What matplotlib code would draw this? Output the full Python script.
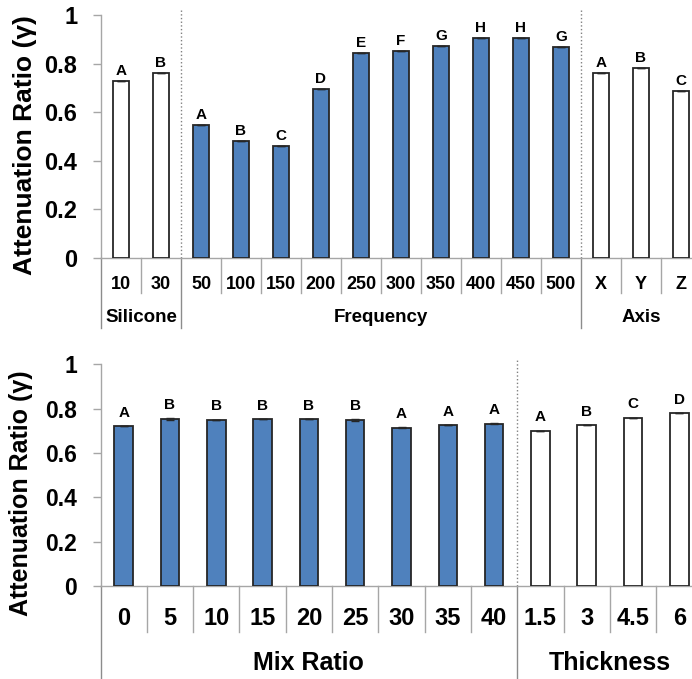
import matplotlib.pyplot as plt
from matplotlib import transforms

plt.rcParams['font.family'] = ['Liberation Sans', 'DejaVu Sans']
plt.rcParams['font.weight'] = 'bold'

# top panel data
top_labels = ['10', '30', '50', '100', '150', '200', '250', '300', '350',
              '400', '450', '500', 'X', 'Y', 'Z']
top_values = [0.730, 0.761, 0.547, 0.481, 0.462, 0.694, 0.845, 0.853, 0.872,
              0.904, 0.904, 0.868, 0.761, 0.781, 0.689]
top_letters = ['A', 'B', 'A', 'B', 'C', 'D', 'E', 'F', 'G', 'H', 'H', 'G',
               'A', 'B', 'C']
top_groups = ['Silicone', 'Frequency', 'Axis']
top_group_sizes = [2, 10, 3]
top_filled = [False, True, False]

# bottom panel data
bot_labels = ['0', '5', '10', '15', '20', '25', '30', '35', '40',
              '1.5', '3', '4.5', '6']
bot_values = [0.721, 0.754, 0.751, 0.754, 0.754, 0.749, 0.714, 0.725, 0.732,
              0.701, 0.725, 0.760, 0.781]
bot_errors = [0.0, 0.003, 0.0, 0.0, 0.0, 0.003, 0.003, 0.0, 0.003,
              0.0, 0.0, 0.0, 0.0]
bot_letters = ['A', 'B', 'B', 'B', 'B', 'B', 'A', 'A', 'A', 'A', 'B', 'C', 'D']
bot_groups = ['Mix Ratio', 'Thickness']
bot_group_sizes = [9, 4]
bot_filled = [True, False]

BLUE = '#4f81bd'
EDGE = '#262626'
GREY = '#a6a6a6'
W, H = 692, 679


def panel(rect, labels, values, letters, groups, sizes, filled, errors,
          px_h, fs):
    ax = plt.gcf().add_axes(rect)
    n = len(labels)
    x = list(range(n))
    colors = []
    for g, s in enumerate(sizes):
        colors += [BLUE if filled[g] else 'white'] * s
    ax.bar(x, values, width=0.4, color=colors, edgecolor=EDGE, linewidth=1.3,
           yerr=errors, error_kw=dict(ecolor=EDGE, capsize=3, elinewidth=1),
           zorder=3)
    for xi, v, e, t in zip(x, values, errors, letters):
        ax.text(xi, v + e + fs['gap'], t, ha='center', va='bottom',
                fontsize=fs['letter'], fontweight='bold')
    ax.set_xlim(-0.5, n - 0.5)
    ax.set_ylim(0, 1)
    ax.set_yticks([0, 0.2, 0.4, 0.6, 0.8, 1.0])
    ax.set_yticklabels(['0', '0.2', '0.4', '0.6', '0.8', '1'])
    ax.tick_params(axis='y', length=6, color=GREY, width=1,
                   labelsize=fs['ytick'], pad=11)
    ax.set_xticks(x)
    ax.set_xticklabels(labels)
    ax.tick_params(axis='x', length=0, labelsize=fs['xtick'], pad=fs['xpad'])
    for s in ['top', 'right']:
        ax.spines[s].set_visible(False)
    for s in ['left', 'bottom']:
        ax.spines[s].set_color(GREY)
        ax.spines[s].set_linewidth(1)
    ax.set_ylabel('Attenuation Ratio (γ)', fontsize=fs['ylabel'],
                  fontweight='bold')
    ax.yaxis.set_label_coords(*fs['ylab_xy'])

    trans = transforms.blended_transform_factory(ax.transData, ax.transAxes)
    short = -fs['short'] / px_h
    long_ = -fs['long'] / px_h
    # category separators below axis
    bounds = [0]
    for s in sizes:
        bounds.append(bounds[-1] + s)
    for i in range(n + 1):
        xb = i - 0.5
        bottom = long_ if i in bounds else short
        ax.plot([xb, xb], [0, bottom], color=GREY if i not in bounds else '#8c8c8c',
                lw=1, transform=trans, clip_on=False)
    # dotted group dividers in the plot
    for b in bounds[1:-1]:
        ax.plot([b - 0.5, b - 0.5], [0, 1 + 5 / px_h], color='#808080',
                lw=1, ls=':', transform=trans, clip_on=False)
    # group labels
    for g, name in enumerate(groups):
        cx = (bounds[g] + bounds[g + 1] - 1) / 2
        ax.text(cx, -fs['group_y'] / px_h, name, transform=trans,
                ha='center', va='center', fontsize=fs['group'],
                fontweight='bold')
    return ax


fig = plt.figure(figsize=(W / 100, H / 100), dpi=100)

top_fs = dict(letter=11, ytick=17, xtick=13, ylabel=19, group=13.5,
              gap=0.012, xpad=13, ylab_xy=(-0.107, 0.465), short=35, long=70,
              group_y=59)
panel([101 / W, 1 - 258 / H, 600 / W, 243 / H], top_labels, top_values,
      top_letters, top_groups, top_group_sizes, top_filled,
      [0.0] * len(top_values), 243, top_fs)

bot_fs = dict(letter=11, ytick=16.5, xtick=17, ylabel=18, group=18,
              gap=0.028, xpad=15, ylab_xy=(-0.112, 0.42), short=46, long=92,
              group_y=77)
panel([100.5 / W, 1 - 586.3 / H, 602 / W, 222 / H], bot_labels, bot_values,
      bot_letters, bot_groups, bot_group_sizes, bot_filled,
      bot_errors, 222, bot_fs)

fig.savefig('out.png', dpi=100)
